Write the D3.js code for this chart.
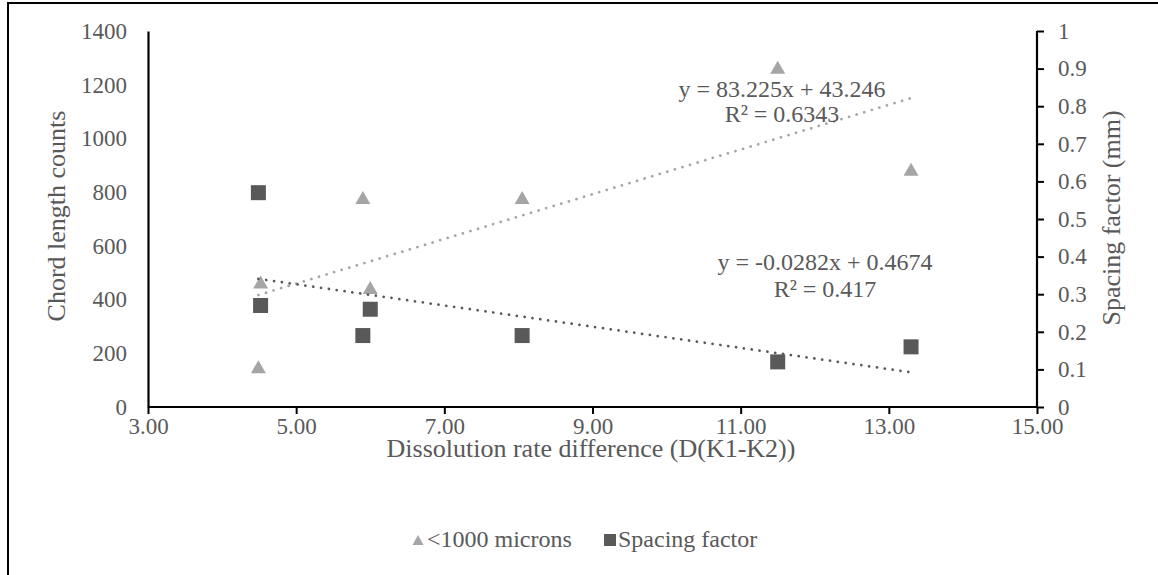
<!DOCTYPE html>
<html>
<head>
<meta charset="utf-8">
<script src="https://cdn.jsdelivr.net/npm/d3@7"></script>
<style>
  html, body { margin: 0; padding: 0; background: #fff; }
  svg { display: block; }
</style>
</head>
<body>
<svg id="chart" width="1158" height="575"></svg>
<script>
// ---- data ----
const xValues = [4.49, 4.52, 5.9, 6.0, 8.05, 11.5, 13.3];
const chordCounts = [150, 465, 780, 445, 780, 1265, 885];      // <1000 microns (left axis)
const spacingFactor = [0.57, 0.27, 0.19, 0.26, 0.19, 0.12, 0.16]; // Spacing factor (right axis)
const xTicks = [3, 5, 7, 9, 11, 13, 15];
const leftTicks = [0, 200, 400, 600, 800, 1000, 1200, 1400];
const rightTicks = [0, 0.1, 0.2, 0.3, 0.4, 0.5, 0.6, 0.7, 0.8, 0.9, 1];
const trendChord = { slope: 83.225, intercept: 43.246, label1: "y = 83.225x + 43.246", label2: "R² = 0.6343" };
const trendSpacing = { slope: -0.0282, intercept: 0.4674, label1: "y = -0.0282x + 0.4674", label2: "R² = 0.417" };
const seriesNames = ["<1000 microns", "Spacing factor"];
const titles = { x: "Dissolution rate difference (D(K1-K2))", yLeft: "Chord length counts", yRight: "Spacing factor (mm)" };

// ---- layout ----
const FONT = "'Liberation Serif', 'Times New Roman', serif";
const TXT = "#595959";
const svg = d3.select("#chart").attr("font-family", FONT);
const L = 148, R = 1037, T = 31, B = 407;
const lightColor = "#A5A5A5", darkColor = "#595959";
const fsTick = 23, fs = 24, fsTitle = 26;

const x = d3.scaleLinear().domain([3, 15]).range([L, R]);
const yL = d3.scaleLinear().domain([0, 1400]).range([B, T]);
const yR = d3.scaleLinear().domain([0, 1]).range([B, T]);

function styleText(sel, size) {
  return sel.attr("font-family", FONT).style("font-family", FONT).style("font-size", size + "px").attr("fill", TXT);
}

// outer border
svg.append("rect").attr("x", 8).attr("y", 3).attr("width", 1170).attr("height", 600)
  .attr("fill", "none").attr("stroke", "#000").attr("stroke-width", 2);

// x axis
const xAxis = svg.append("g").attr("transform", `translate(0,${B})`)
  .call(d3.axisBottom(x).tickValues(xTicks).tickSize(7).tickPadding(4).tickFormat(d3.format(".2f")));
xAxis.attr("font-family", FONT);
xAxis.select(".domain").attr("stroke", "#000").attr("stroke-width", 2.2).attr("d", `M${L},0H${R}`);
xAxis.selectAll(".tick line").attr("stroke", "#000").attr("stroke-width", 2);
styleText(xAxis.selectAll(".tick text"), fsTick);

// left axis (no tick marks)
const yAxisL = svg.append("g").attr("transform", `translate(${L},0)`)
  .call(d3.axisLeft(yL).tickValues(leftTicks).tickSize(0).tickPadding(21).tickFormat(d3.format("d")));
yAxisL.attr("font-family", FONT);
yAxisL.select(".domain").attr("stroke", "#000").attr("stroke-width", 2.2);
styleText(yAxisL.selectAll(".tick text"), fsTick);

// right axis
const yAxisR = svg.append("g").attr("transform", `translate(${R},0)`)
  .call(d3.axisRight(yR).tickValues(rightTicks).tickSize(7).tickPadding(14).tickFormat(d => String(+d.toFixed(1))));
yAxisR.attr("font-family", FONT);
yAxisR.select(".domain").attr("stroke", "#000").attr("stroke-width", 2.2).attr("d", `M0,${B}V${T}`);
yAxisR.selectAll(".tick line").attr("stroke", "#000").attr("stroke-width", 2);
styleText(yAxisR.selectAll(".tick text"), fsTick);

// axis titles
styleText(svg.append("text").attr("x", 591).attr("y", 457).attr("text-anchor", "middle"), fsTitle).text(titles.x);
styleText(svg.append("text").attr("transform", `translate(65,216) rotate(-90)`).attr("text-anchor", "middle"), fsTitle).text(titles.yLeft);
styleText(svg.append("text").attr("transform", `translate(1120,218) rotate(-90)`).attr("text-anchor", "middle"), fsTitle).text(titles.yRight);

// markers
function triPath(cx, cy, w, h) {
  return `M${cx},${cy - h / 2}L${cx + w / 2},${cy + h / 2}L${cx - w / 2},${cy + h / 2}Z`;
}
const pts = xValues.map((xv, i) => ({ x: xv, c: chordCounts[i], s: spacingFactor[i] }));

svg.append("g").selectAll("path").data(pts).join("path")
  .attr("d", d => triPath(x(d.x), yL(d.c), 15, 13)).attr("fill", lightColor);

svg.append("g").selectAll("rect").data(pts).join("rect")
  .attr("x", d => x(d.x) - 7.5).attr("y", d => yR(d.s) - 7.5)
  .attr("width", 15).attr("height", 15).attr("fill", darkColor);

// trendlines
const xMin = d3.min(xValues), xMax = d3.max(xValues);
function trend(t, yScale, color) {
  svg.append("line")
    .attr("x1", x(xMin)).attr("y1", yScale(t.slope * xMin + t.intercept))
    .attr("x2", x(xMax)).attr("y2", yScale(t.slope * xMax + t.intercept))
    .attr("stroke", color).attr("stroke-width", 2.75).attr("stroke-linecap", "round")
    .attr("stroke-dasharray", "0.01,7.9");
}
trend(trendChord, yL, lightColor);
trend(trendSpacing, yR, darkColor);

// equation labels
function eqLabel(t, cx, by1, by2) {
  styleText(svg.append("text").attr("x", cx).attr("y", by1).attr("text-anchor", "middle"), fs).text(t.label1);
  styleText(svg.append("text").attr("x", cx).attr("y", by2).attr("text-anchor", "middle"), fs).text(t.label2);
}
eqLabel(trendChord, 782, 97, 122);
eqLabel(trendSpacing, 825, 270, 297);

// legend
const lg = svg.append("g");
lg.append("path").attr("d", triPath(418, 540, 11, 10)).attr("fill", lightColor);
styleText(lg.append("text").attr("x", 427).attr("y", 547), fs).text(seriesNames[0]);
lg.append("rect").attr("x", 604).attr("y", 534).attr("width", 12).attr("height", 12).attr("fill", darkColor);
styleText(lg.append("text").attr("x", 618).attr("y", 547), fs).text(seriesNames[1]);
</script>
</body>
</html>
